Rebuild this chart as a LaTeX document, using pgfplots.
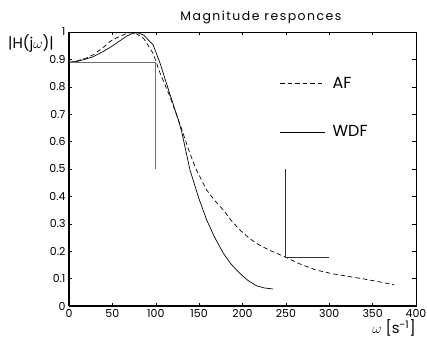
\documentclass[border=0pt]{standalone}
\usepackage{fontspec}
\setmainfont{Poppins}
\newfontfamily\titlefont[LetterSpace=12]{Poppins}
\usepackage{pgfplots}
\pgfplotsset{compat=1.18}
\begin{document}
\begin{tikzpicture}
\useasboundingbox (-69bp,-36bp) rectangle (358bp,306bp);
\begin{axis}[
  at={(0,0)}, anchor=south west,
  scale only axis, width=347bp, height=274bp,
  xmin=0, xmax=400, ymin=0, ymax=1,
  xtick={0,50,100,150,200,250,300,350,400},
  ytick={0,0.1,0.2,0.3,0.4,0.5,0.6,0.7,0.8,0.9,1},
  yticklabels={0,0.1,0.2,0.3,0.4,0.5,0.6,0.7,0.8,0.9,1},
  tick align=inside, major tick length=3.5bp,
  tick style={black, line width=0.5pt},
  axis line style={line width=0.9pt},
  ticklabel style={font=\fontsize{11}{13}\selectfont},
  /pgf/number format/assume math mode=true,
  legend style={draw=none, fill=none, inner sep=0pt, outer sep=0pt, at={(rel axis cs:0.608,0.724)}, anchor=west,
    nodes={inner sep=0pt, minimum height=14bp, anchor=west, font=\fontsize{16}{18}\selectfont},
    row sep=34.5bp, /tikz/every odd column/.append style={column sep=7bp}},
  legend image code/.code={\draw[#1] (0bp,0bp) -- (45bp,0bp);},
  clip=false,
]
\addplot[black, line width=0.7pt, dash pattern=on 4.5bp off 3bp] coordinates {
(0,0.889) (10,0.895) (20,0.905) (28,0.917) (40,0.945) (47,0.965) (55,0.979)
(66.5,0.995) (72,0.998) (78,0.993) (86,0.977) (97,0.922) (105,0.85) (116.4,0.764)
(126,0.68) (130,0.645) (139,0.56) (147,0.496) (158.7,0.423) (168,0.385) (178,0.35)
(187,0.312) (197,0.277) (208,0.247) (216,0.229) (230,0.205) (250,0.178) (265,0.155)
(285,0.131) (305,0.117) (324,0.107) (341,0.098) (360,0.087) (375,0.077)
};
\addlegendentry{AF}
\addplot[black, line width=0.7pt] coordinates {
(0,0.889) (10,0.893) (20,0.902) (28,0.91) (40,0.93) (47,0.943) (55,0.96)
(66.5,0.985) (72,0.993) (78,0.998) (86,0.989) (97,0.953) (105,0.886) (116,0.776)
(126,0.68) (130,0.635) (139.5,0.496) (150,0.39) (158.7,0.314) (168,0.25) (178,0.192)
(187,0.152) (197,0.119) (206,0.094) (216,0.074) (225,0.066) (235,0.062)
};
\addlegendentry{WDF}
\addplot[color={rgb,255:red,110;green,110;blue,110}, line width=1pt, forget plot] coordinates {
(0,0.89) (100,0.89) (100,0.5)
};
\addplot[color={rgb,255:red,60;green,40;blue,52}, line width=1pt, forget plot] coordinates {
(250,0.5) (250,0.178) (300,0.178)
};
\draw[line width=1.5bp] (rel axis cs:0,1) -- (rel axis cs:0,0);
\draw[line width=2bp] (rel axis cs:0,0) -- (rel axis cs:1,0);
\node[font=\titlefont\fontsize{12.5}{14}\selectfont] at (rel axis cs:0.553,1) [yshift=15bp] {Magnitude responces};
\node[font=\fontsize{15}{17}\selectfont] at (rel axis cs:0,1) [xshift=-38bp, yshift=-11bp] {|H(j$\omega$)|};
\node[font=\fontsize{15}{17}\selectfont] at (rel axis cs:1,0) [xshift=-22bp, yshift=-22bp] {$\omega$ [s\textsuperscript{-1}]};
\end{axis}
\end{tikzpicture}
\end{document}
